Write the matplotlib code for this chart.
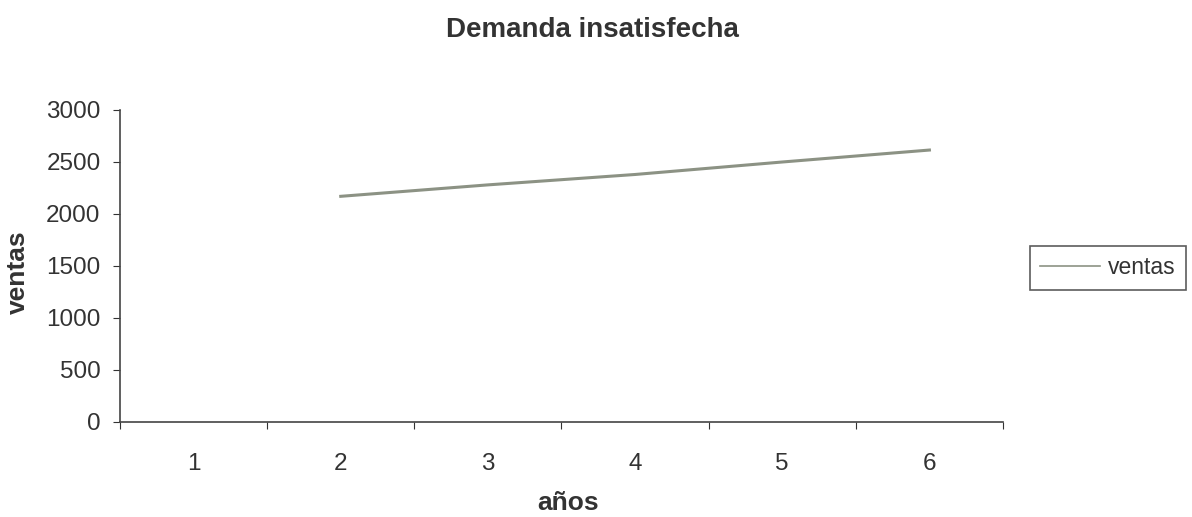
import numpy as np
import matplotlib
matplotlib.use("Agg")
import matplotlib.pyplot as plt

plt.rcParams['font.family'] = ['Liberation Sans', 'DejaVu Sans']

# data
anios = [1, 2, 3, 4, 5, 6]
ventas = [np.nan, 2170, 2280, 2380, 2500, 2615]

fig = plt.figure(figsize=(11.92, 5.17), dpi=100)
ax = fig.add_axes([120/1192, 1-422/517, (1003-120)/1192, (422-110)/517])

ax.plot(anios, ventas, color='#8c9284', linewidth=2.2, label='ventas')

ax.set_xlim(0.5, 6.5)
ax.set_ylim(0, 3000)
ax.set_yticks(np.arange(0, 3001, 500))
ax.tick_params(axis='y', direction='out', length=5, labelsize=17.5, colors='#333333', labelcolor='#333333', pad=9)

# category axis: ticks between categories, labels at centres
ax.set_xticks(np.arange(0.5, 6.6, 1))
ax.set_xticklabels([])
ax.set_xticks(anios, minor=True)
ax.set_xticklabels([str(a) for a in anios], minor=True)
ax.tick_params(axis='x', which='major', direction='out', length=5, colors='#333333')
ax.tick_params(axis='x', which='minor', length=0, labelsize=17.5, labelcolor='#333333', pad=22)

for s in ['top', 'right']:
    ax.spines[s].set_visible(False)
for s in ['left', 'bottom']:
    ax.spines[s].set_color('#444444')
    ax.spines[s].set_linewidth(1.2)

fig.text(592/1192, 1-30/517, 'Demanda insatisfecha', ha='center', va='center',
         fontsize=20, fontweight='bold', color='#333333')
fig.text(568/1192, 1-503/517, 'años', ha='center', va='center',
         fontsize=19, fontweight='bold', color='#333333')
fig.text(18/1192, 1-272/517, 'ventas', ha='center', va='center', rotation=90,
         fontsize=19, fontweight='bold', color='#333333')

leg = ax.legend(loc='center left', bbox_to_anchor=(1030/1192, 1-268/517),
                bbox_transform=fig.transFigure, frameon=True, fancybox=False,
                fontsize=16.5, handlelength=2.6, borderpad=0.45, handletextpad=0.35,
                borderaxespad=0)
leg.get_frame().set_edgecolor('#333333')
leg.get_frame().set_linewidth(1.2)
for t in leg.get_texts():
    t.set_color('#333333')
for l in leg.get_lines():
    l.set_linewidth(1.2)

fig.savefig('out.png', dpi=100)
